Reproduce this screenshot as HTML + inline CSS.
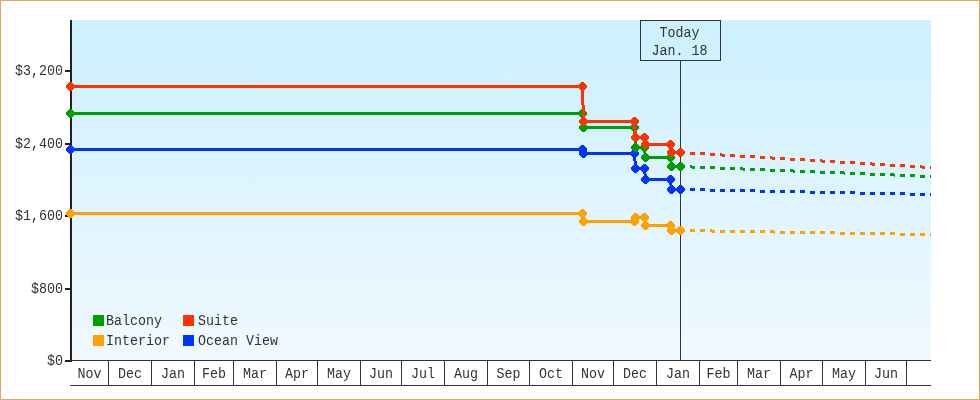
<!DOCTYPE html><html><head><meta charset="utf-8"><style>html,body{margin:0;padding:0;background:#fff;width:980px;height:400px;overflow:hidden}svg{display:block;will-change:transform}text{font-family:"Liberation Mono",monospace;font-size:15px;fill:#333333}</style></head><body>
<svg width="980" height="400" viewBox="0 0 980 400">
<defs><linearGradient id="bg" x1="0" y1="0" x2="0" y2="1"><stop offset="0" stop-color="#ccf0ff"/><stop offset="1" stop-color="#f0f9ff"/></linearGradient></defs>
<rect x="0.5" y="0.5" width="979" height="399" fill="#fff" stroke="#e8a458" stroke-width="1"/>
<rect x="72" y="20" width="859" height="340" fill="url(#bg)"/>
<rect x="680" y="60" width="1" height="300" fill="#333"/>
<rect x="640.5" y="20.5" width="80" height="40" fill="none" stroke="#333" stroke-width="1"/>
<text transform="translate(679.5,37) scale(0.888889,1)" text-anchor="middle">Today</text>
<text transform="translate(679.5,55) scale(0.888889,1)" text-anchor="middle">Jan. 18</text>
<rect x="70" y="20" width="2" height="342" fill="#222"/>
<rect x="65" y="70" width="5" height="2" fill="#222"/>
<text transform="translate(63,75) scale(0.888889,1)" text-anchor="end">$3,200</text>
<rect x="65" y="143" width="5" height="2" fill="#222"/>
<text transform="translate(63,148) scale(0.888889,1)" text-anchor="end">$2,400</text>
<rect x="65" y="215" width="5" height="2" fill="#222"/>
<text transform="translate(63,220) scale(0.888889,1)" text-anchor="end">$1,600</text>
<rect x="65" y="288" width="5" height="2" fill="#222"/>
<text transform="translate(63,293) scale(0.888889,1)" text-anchor="end">$800</text>
<rect x="65" y="360" width="5" height="2" fill="#222"/>
<text transform="translate(63,365) scale(0.888889,1)" text-anchor="end">$0</text>
<rect x="70" y="360" width="861" height="1" fill="#333"/>
<rect x="70" y="385" width="861" height="1" fill="#333"/>
<rect x="108" y="361" width="1" height="24" fill="#333"/>
<rect x="151" y="361" width="1" height="24" fill="#333"/>
<rect x="194" y="361" width="1" height="24" fill="#333"/>
<rect x="233" y="361" width="1" height="24" fill="#333"/>
<rect x="276" y="361" width="1" height="24" fill="#333"/>
<rect x="317" y="361" width="1" height="24" fill="#333"/>
<rect x="360" y="361" width="1" height="24" fill="#333"/>
<rect x="401" y="361" width="1" height="24" fill="#333"/>
<rect x="444" y="361" width="1" height="24" fill="#333"/>
<rect x="487" y="361" width="1" height="24" fill="#333"/>
<rect x="529" y="361" width="1" height="24" fill="#333"/>
<rect x="572" y="361" width="1" height="24" fill="#333"/>
<rect x="613" y="361" width="1" height="24" fill="#333"/>
<rect x="656" y="361" width="1" height="24" fill="#333"/>
<rect x="699" y="361" width="1" height="24" fill="#333"/>
<rect x="737" y="361" width="1" height="24" fill="#333"/>
<rect x="780" y="361" width="1" height="24" fill="#333"/>
<rect x="822" y="361" width="1" height="24" fill="#333"/>
<rect x="865" y="361" width="1" height="24" fill="#333"/>
<rect x="906" y="361" width="1" height="24" fill="#333"/>
<text transform="translate(89.5,378) scale(0.888889,1)" text-anchor="middle">Nov</text>
<text transform="translate(130,378) scale(0.888889,1)" text-anchor="middle">Dec</text>
<text transform="translate(173,378) scale(0.888889,1)" text-anchor="middle">Jan</text>
<text transform="translate(214,378) scale(0.888889,1)" text-anchor="middle">Feb</text>
<text transform="translate(255,378) scale(0.888889,1)" text-anchor="middle">Mar</text>
<text transform="translate(297,378) scale(0.888889,1)" text-anchor="middle">Apr</text>
<text transform="translate(339,378) scale(0.888889,1)" text-anchor="middle">May</text>
<text transform="translate(381,378) scale(0.888889,1)" text-anchor="middle">Jun</text>
<text transform="translate(423,378) scale(0.888889,1)" text-anchor="middle">Jul</text>
<text transform="translate(466,378) scale(0.888889,1)" text-anchor="middle">Aug</text>
<text transform="translate(508.5,378) scale(0.888889,1)" text-anchor="middle">Sep</text>
<text transform="translate(551,378) scale(0.888889,1)" text-anchor="middle">Oct</text>
<text transform="translate(593,378) scale(0.888889,1)" text-anchor="middle">Nov</text>
<text transform="translate(635,378) scale(0.888889,1)" text-anchor="middle">Dec</text>
<text transform="translate(678,378) scale(0.888889,1)" text-anchor="middle">Jan</text>
<text transform="translate(718.5,378) scale(0.888889,1)" text-anchor="middle">Feb</text>
<text transform="translate(759,378) scale(0.888889,1)" text-anchor="middle">Mar</text>
<text transform="translate(801.5,378) scale(0.888889,1)" text-anchor="middle">Apr</text>
<text transform="translate(844,378) scale(0.888889,1)" text-anchor="middle">May</text>
<text transform="translate(886,378) scale(0.888889,1)" text-anchor="middle">Jun</text>
<polyline fill="none" stroke="#ffa200" stroke-width="3" points="70.5,213.5 582.5,213.5 583.5,221.5 634.5,221.5 635.5,217.5 644.5,217.5 645.5,225.5 670.5,225.5 671.5,230.5 680.5,230.5" shape-rendering="crispEdges"/>
<rect x="690" y="229" width="5" height="3" fill="#ffa200"/>
<rect x="700" y="229" width="5" height="3" fill="#ffa200"/>
<rect x="710" y="229" width="2" height="3" fill="#ffa200"/>
<rect x="712" y="230" width="3" height="3" fill="#ffa200"/>
<rect x="720" y="230" width="5" height="3" fill="#ffa200"/>
<rect x="730" y="230" width="5" height="3" fill="#ffa200"/>
<rect x="740" y="230" width="5" height="3" fill="#ffa200"/>
<rect x="750" y="230" width="5" height="3" fill="#ffa200"/>
<rect x="760" y="230" width="5" height="3" fill="#ffa200"/>
<rect x="770" y="230" width="4" height="3" fill="#ffa200"/>
<rect x="774" y="231" width="1" height="3" fill="#ffa200"/>
<rect x="780" y="231" width="5" height="3" fill="#ffa200"/>
<rect x="790" y="231" width="5" height="3" fill="#ffa200"/>
<rect x="800" y="231" width="5" height="3" fill="#ffa200"/>
<rect x="810" y="231" width="5" height="3" fill="#ffa200"/>
<rect x="820" y="231" width="5" height="3" fill="#ffa200"/>
<rect x="830" y="231" width="5" height="3" fill="#ffa200"/>
<rect x="840" y="232" width="5" height="3" fill="#ffa200"/>
<rect x="850" y="232" width="5" height="3" fill="#ffa200"/>
<rect x="860" y="232" width="5" height="3" fill="#ffa200"/>
<rect x="870" y="232" width="5" height="3" fill="#ffa200"/>
<rect x="880" y="232" width="5" height="3" fill="#ffa200"/>
<rect x="890" y="232" width="5" height="3" fill="#ffa200"/>
<rect x="900" y="233" width="5" height="3" fill="#ffa200"/>
<rect x="910" y="233" width="5" height="3" fill="#ffa200"/>
<rect x="920" y="233" width="5" height="3" fill="#ffa200"/>
<rect x="930" y="233" width="1" height="3" fill="#ffa200"/>
<path d="M66 212h1v3h-1zM67 211h1v5h-1zM68 210h1v7h-1zM69 209h1v9h-1zM70 209h1v9h-1zM71 209h1v9h-1zM72 210h1v7h-1zM73 211h1v5h-1zM74 212h1v3h-1z" fill="#ffa200"/>
<path d="M578 212h1v3h-1zM579 211h1v5h-1zM580 210h1v7h-1zM581 209h1v9h-1zM582 209h1v9h-1zM583 209h1v9h-1zM584 210h1v7h-1zM585 211h1v5h-1zM586 212h1v3h-1z" fill="#ffa200"/>
<path d="M579 220h1v3h-1zM580 219h1v5h-1zM581 218h1v7h-1zM582 217h1v9h-1zM583 217h1v9h-1zM584 217h1v9h-1zM585 218h1v7h-1zM586 219h1v5h-1zM587 220h1v3h-1z" fill="#ffa200"/>
<path d="M630 220h1v3h-1zM631 219h1v5h-1zM632 218h1v7h-1zM633 217h1v9h-1zM634 217h1v9h-1zM635 217h1v9h-1zM636 218h1v7h-1zM637 219h1v5h-1zM638 220h1v3h-1z" fill="#ffa200"/>
<path d="M631 216h1v3h-1zM632 215h1v5h-1zM633 214h1v7h-1zM634 213h1v9h-1zM635 213h1v9h-1zM636 213h1v9h-1zM637 214h1v7h-1zM638 215h1v5h-1zM639 216h1v3h-1z" fill="#ffa200"/>
<path d="M640 216h1v3h-1zM641 215h1v5h-1zM642 214h1v7h-1zM643 213h1v9h-1zM644 213h1v9h-1zM645 213h1v9h-1zM646 214h1v7h-1zM647 215h1v5h-1zM648 216h1v3h-1z" fill="#ffa200"/>
<path d="M641 224h1v3h-1zM642 223h1v5h-1zM643 222h1v7h-1zM644 221h1v9h-1zM645 221h1v9h-1zM646 221h1v9h-1zM647 222h1v7h-1zM648 223h1v5h-1zM649 224h1v3h-1z" fill="#ffa200"/>
<path d="M666 224h1v3h-1zM667 223h1v5h-1zM668 222h1v7h-1zM669 221h1v9h-1zM670 221h1v9h-1zM671 221h1v9h-1zM672 222h1v7h-1zM673 223h1v5h-1zM674 224h1v3h-1z" fill="#ffa200"/>
<path d="M667 229h1v3h-1zM668 228h1v5h-1zM669 227h1v7h-1zM670 226h1v9h-1zM671 226h1v9h-1zM672 226h1v9h-1zM673 227h1v7h-1zM674 228h1v5h-1zM675 229h1v3h-1z" fill="#ffa200"/>
<path d="M676 229h1v3h-1zM677 228h1v5h-1zM678 227h1v7h-1zM679 226h1v9h-1zM680 226h1v9h-1zM681 226h1v9h-1zM682 227h1v7h-1zM683 228h1v5h-1zM684 229h1v3h-1z" fill="#ffa200"/>
<polyline fill="none" stroke="#0033ff" stroke-width="3" points="70.5,149.5 582.5,149.5 583.5,153.5 634.5,153.5 635.5,168.5 644.5,168.5 645.5,179.5 670.5,179.5 671.5,189.5 680.5,189.5" shape-rendering="crispEdges"/>
<rect x="690" y="188" width="5" height="3" fill="#0033ff"/>
<rect x="700" y="188" width="5" height="3" fill="#0033ff"/>
<rect x="710" y="189" width="5" height="3" fill="#0033ff"/>
<rect x="720" y="189" width="5" height="3" fill="#0033ff"/>
<rect x="730" y="189" width="5" height="3" fill="#0033ff"/>
<rect x="740" y="189" width="5" height="3" fill="#0033ff"/>
<rect x="750" y="189" width="5" height="3" fill="#0033ff"/>
<rect x="760" y="190" width="5" height="3" fill="#0033ff"/>
<rect x="770" y="190" width="5" height="3" fill="#0033ff"/>
<rect x="780" y="190" width="5" height="3" fill="#0033ff"/>
<rect x="790" y="190" width="5" height="3" fill="#0033ff"/>
<rect x="800" y="190" width="5" height="3" fill="#0033ff"/>
<rect x="810" y="191" width="5" height="3" fill="#0033ff"/>
<rect x="820" y="191" width="5" height="3" fill="#0033ff"/>
<rect x="830" y="191" width="5" height="3" fill="#0033ff"/>
<rect x="840" y="191" width="5" height="3" fill="#0033ff"/>
<rect x="850" y="191" width="5" height="3" fill="#0033ff"/>
<rect x="860" y="192" width="5" height="3" fill="#0033ff"/>
<rect x="870" y="192" width="5" height="3" fill="#0033ff"/>
<rect x="880" y="192" width="5" height="3" fill="#0033ff"/>
<rect x="890" y="192" width="5" height="3" fill="#0033ff"/>
<rect x="900" y="192" width="5" height="3" fill="#0033ff"/>
<rect x="910" y="193" width="5" height="3" fill="#0033ff"/>
<rect x="920" y="193" width="5" height="3" fill="#0033ff"/>
<rect x="930" y="193" width="1" height="3" fill="#0033ff"/>
<path d="M66 148h1v3h-1zM67 147h1v5h-1zM68 146h1v7h-1zM69 145h1v9h-1zM70 145h1v9h-1zM71 145h1v9h-1zM72 146h1v7h-1zM73 147h1v5h-1zM74 148h1v3h-1z" fill="#0033ff"/>
<path d="M578 148h1v3h-1zM579 147h1v5h-1zM580 146h1v7h-1zM581 145h1v9h-1zM582 145h1v9h-1zM583 145h1v9h-1zM584 146h1v7h-1zM585 147h1v5h-1zM586 148h1v3h-1z" fill="#0033ff"/>
<path d="M579 152h1v3h-1zM580 151h1v5h-1zM581 150h1v7h-1zM582 149h1v9h-1zM583 149h1v9h-1zM584 149h1v9h-1zM585 150h1v7h-1zM586 151h1v5h-1zM587 152h1v3h-1z" fill="#0033ff"/>
<path d="M630 152h1v3h-1zM631 151h1v5h-1zM632 150h1v7h-1zM633 149h1v9h-1zM634 149h1v9h-1zM635 149h1v9h-1zM636 150h1v7h-1zM637 151h1v5h-1zM638 152h1v3h-1z" fill="#0033ff"/>
<path d="M631 167h1v3h-1zM632 166h1v5h-1zM633 165h1v7h-1zM634 164h1v9h-1zM635 164h1v9h-1zM636 164h1v9h-1zM637 165h1v7h-1zM638 166h1v5h-1zM639 167h1v3h-1z" fill="#0033ff"/>
<path d="M640 167h1v3h-1zM641 166h1v5h-1zM642 165h1v7h-1zM643 164h1v9h-1zM644 164h1v9h-1zM645 164h1v9h-1zM646 165h1v7h-1zM647 166h1v5h-1zM648 167h1v3h-1z" fill="#0033ff"/>
<path d="M641 178h1v3h-1zM642 177h1v5h-1zM643 176h1v7h-1zM644 175h1v9h-1zM645 175h1v9h-1zM646 175h1v9h-1zM647 176h1v7h-1zM648 177h1v5h-1zM649 178h1v3h-1z" fill="#0033ff"/>
<path d="M666 178h1v3h-1zM667 177h1v5h-1zM668 176h1v7h-1zM669 175h1v9h-1zM670 175h1v9h-1zM671 175h1v9h-1zM672 176h1v7h-1zM673 177h1v5h-1zM674 178h1v3h-1z" fill="#0033ff"/>
<path d="M667 188h1v3h-1zM668 187h1v5h-1zM669 186h1v7h-1zM670 185h1v9h-1zM671 185h1v9h-1zM672 185h1v9h-1zM673 186h1v7h-1zM674 187h1v5h-1zM675 188h1v3h-1z" fill="#0033ff"/>
<path d="M676 188h1v3h-1zM677 187h1v5h-1zM678 186h1v7h-1zM679 185h1v9h-1zM680 185h1v9h-1zM681 185h1v9h-1zM682 186h1v7h-1zM683 187h1v5h-1zM684 188h1v3h-1z" fill="#0033ff"/>
<polyline fill="none" stroke="#009f00" stroke-width="3" points="70.5,113.5 582.5,113.5 583.5,127.5 634.5,127.5 635.5,147.5 644.5,147.5 645.5,157.5 670.5,157.5 671.5,166.5 680.5,166.5" shape-rendering="crispEdges"/>
<rect x="690" y="165" width="2" height="3" fill="#009f00"/>
<rect x="692" y="166" width="3" height="3" fill="#009f00"/>
<rect x="700" y="166" width="5" height="3" fill="#009f00"/>
<rect x="710" y="166" width="5" height="3" fill="#009f00"/>
<rect x="720" y="167" width="5" height="3" fill="#009f00"/>
<rect x="730" y="167" width="5" height="3" fill="#009f00"/>
<rect x="740" y="167" width="3" height="3" fill="#009f00"/>
<rect x="743" y="168" width="2" height="3" fill="#009f00"/>
<rect x="750" y="168" width="5" height="3" fill="#009f00"/>
<rect x="760" y="168" width="5" height="3" fill="#009f00"/>
<rect x="770" y="169" width="5" height="3" fill="#009f00"/>
<rect x="780" y="169" width="5" height="3" fill="#009f00"/>
<rect x="790" y="169" width="3" height="3" fill="#009f00"/>
<rect x="793" y="170" width="2" height="3" fill="#009f00"/>
<rect x="800" y="170" width="5" height="3" fill="#009f00"/>
<rect x="810" y="170" width="5" height="3" fill="#009f00"/>
<rect x="820" y="171" width="5" height="3" fill="#009f00"/>
<rect x="830" y="171" width="5" height="3" fill="#009f00"/>
<rect x="840" y="171" width="4" height="3" fill="#009f00"/>
<rect x="844" y="172" width="1" height="3" fill="#009f00"/>
<rect x="850" y="172" width="5" height="3" fill="#009f00"/>
<rect x="860" y="172" width="5" height="3" fill="#009f00"/>
<rect x="870" y="173" width="5" height="3" fill="#009f00"/>
<rect x="880" y="173" width="5" height="3" fill="#009f00"/>
<rect x="890" y="173" width="4" height="3" fill="#009f00"/>
<rect x="894" y="174" width="1" height="3" fill="#009f00"/>
<rect x="900" y="174" width="5" height="3" fill="#009f00"/>
<rect x="910" y="174" width="5" height="3" fill="#009f00"/>
<rect x="920" y="175" width="5" height="3" fill="#009f00"/>
<rect x="930" y="175" width="1" height="3" fill="#009f00"/>
<path d="M66 112h1v3h-1zM67 111h1v5h-1zM68 110h1v7h-1zM69 109h1v9h-1zM70 109h1v9h-1zM71 109h1v9h-1zM72 110h1v7h-1zM73 111h1v5h-1zM74 112h1v3h-1z" fill="#009f00"/>
<path d="M578 112h1v3h-1zM579 111h1v5h-1zM580 110h1v7h-1zM581 109h1v9h-1zM582 109h1v9h-1zM583 109h1v9h-1zM584 110h1v7h-1zM585 111h1v5h-1zM586 112h1v3h-1z" fill="#009f00"/>
<path d="M579 126h1v3h-1zM580 125h1v5h-1zM581 124h1v7h-1zM582 123h1v9h-1zM583 123h1v9h-1zM584 123h1v9h-1zM585 124h1v7h-1zM586 125h1v5h-1zM587 126h1v3h-1z" fill="#009f00"/>
<path d="M630 126h1v3h-1zM631 125h1v5h-1zM632 124h1v7h-1zM633 123h1v9h-1zM634 123h1v9h-1zM635 123h1v9h-1zM636 124h1v7h-1zM637 125h1v5h-1zM638 126h1v3h-1z" fill="#009f00"/>
<path d="M631 146h1v3h-1zM632 145h1v5h-1zM633 144h1v7h-1zM634 143h1v9h-1zM635 143h1v9h-1zM636 143h1v9h-1zM637 144h1v7h-1zM638 145h1v5h-1zM639 146h1v3h-1z" fill="#009f00"/>
<path d="M640 146h1v3h-1zM641 145h1v5h-1zM642 144h1v7h-1zM643 143h1v9h-1zM644 143h1v9h-1zM645 143h1v9h-1zM646 144h1v7h-1zM647 145h1v5h-1zM648 146h1v3h-1z" fill="#009f00"/>
<path d="M641 156h1v3h-1zM642 155h1v5h-1zM643 154h1v7h-1zM644 153h1v9h-1zM645 153h1v9h-1zM646 153h1v9h-1zM647 154h1v7h-1zM648 155h1v5h-1zM649 156h1v3h-1z" fill="#009f00"/>
<path d="M666 156h1v3h-1zM667 155h1v5h-1zM668 154h1v7h-1zM669 153h1v9h-1zM670 153h1v9h-1zM671 153h1v9h-1zM672 154h1v7h-1zM673 155h1v5h-1zM674 156h1v3h-1z" fill="#009f00"/>
<path d="M667 165h1v3h-1zM668 164h1v5h-1zM669 163h1v7h-1zM670 162h1v9h-1zM671 162h1v9h-1zM672 162h1v9h-1zM673 163h1v7h-1zM674 164h1v5h-1zM675 165h1v3h-1z" fill="#009f00"/>
<path d="M676 165h1v3h-1zM677 164h1v5h-1zM678 163h1v7h-1zM679 162h1v9h-1zM680 162h1v9h-1zM681 162h1v9h-1zM682 163h1v7h-1zM683 164h1v5h-1zM684 165h1v3h-1z" fill="#009f00"/>
<polyline fill="none" stroke="#ff3300" stroke-width="3" points="70.5,86.5 582.5,86.5 583.5,121.5 634.5,121.5 635.5,137.5 644.5,137.5 645.5,144.5 670.5,144.5 671.5,152.5 680.5,152.5" shape-rendering="crispEdges"/>
<rect x="690" y="152" width="5" height="3" fill="#ff3300"/>
<rect x="700" y="152" width="5" height="3" fill="#ff3300"/>
<rect x="710" y="153" width="5" height="3" fill="#ff3300"/>
<rect x="720" y="153" width="2" height="3" fill="#ff3300"/>
<rect x="722" y="154" width="3" height="3" fill="#ff3300"/>
<rect x="730" y="154" width="5" height="3" fill="#ff3300"/>
<rect x="740" y="155" width="5" height="3" fill="#ff3300"/>
<rect x="750" y="155" width="5" height="3" fill="#ff3300"/>
<rect x="760" y="156" width="5" height="3" fill="#ff3300"/>
<rect x="770" y="156" width="2" height="3" fill="#ff3300"/>
<rect x="772" y="157" width="3" height="3" fill="#ff3300"/>
<rect x="780" y="157" width="5" height="3" fill="#ff3300"/>
<rect x="790" y="158" width="5" height="3" fill="#ff3300"/>
<rect x="800" y="158" width="5" height="3" fill="#ff3300"/>
<rect x="810" y="159" width="5" height="3" fill="#ff3300"/>
<rect x="820" y="159" width="2" height="3" fill="#ff3300"/>
<rect x="822" y="160" width="3" height="3" fill="#ff3300"/>
<rect x="830" y="160" width="5" height="3" fill="#ff3300"/>
<rect x="840" y="161" width="5" height="3" fill="#ff3300"/>
<rect x="850" y="161" width="5" height="3" fill="#ff3300"/>
<rect x="860" y="162" width="5" height="3" fill="#ff3300"/>
<rect x="870" y="162" width="2" height="3" fill="#ff3300"/>
<rect x="872" y="163" width="3" height="3" fill="#ff3300"/>
<rect x="880" y="163" width="5" height="3" fill="#ff3300"/>
<rect x="890" y="164" width="5" height="3" fill="#ff3300"/>
<rect x="900" y="164" width="5" height="3" fill="#ff3300"/>
<rect x="910" y="165" width="5" height="3" fill="#ff3300"/>
<rect x="920" y="165" width="2" height="3" fill="#ff3300"/>
<rect x="922" y="166" width="3" height="3" fill="#ff3300"/>
<rect x="930" y="166" width="1" height="3" fill="#ff3300"/>
<path d="M66 85h1v3h-1zM67 84h1v5h-1zM68 83h1v7h-1zM69 82h1v9h-1zM70 82h1v9h-1zM71 82h1v9h-1zM72 83h1v7h-1zM73 84h1v5h-1zM74 85h1v3h-1z" fill="#ff3300"/>
<path d="M578 85h1v3h-1zM579 84h1v5h-1zM580 83h1v7h-1zM581 82h1v9h-1zM582 82h1v9h-1zM583 82h1v9h-1zM584 83h1v7h-1zM585 84h1v5h-1zM586 85h1v3h-1z" fill="#ff3300"/>
<path d="M579 120h1v3h-1zM580 119h1v5h-1zM581 118h1v7h-1zM582 117h1v9h-1zM583 117h1v9h-1zM584 117h1v9h-1zM585 118h1v7h-1zM586 119h1v5h-1zM587 120h1v3h-1z" fill="#ff3300"/>
<path d="M630 120h1v3h-1zM631 119h1v5h-1zM632 118h1v7h-1zM633 117h1v9h-1zM634 117h1v9h-1zM635 117h1v9h-1zM636 118h1v7h-1zM637 119h1v5h-1zM638 120h1v3h-1z" fill="#ff3300"/>
<path d="M631 136h1v3h-1zM632 135h1v5h-1zM633 134h1v7h-1zM634 133h1v9h-1zM635 133h1v9h-1zM636 133h1v9h-1zM637 134h1v7h-1zM638 135h1v5h-1zM639 136h1v3h-1z" fill="#ff3300"/>
<path d="M640 136h1v3h-1zM641 135h1v5h-1zM642 134h1v7h-1zM643 133h1v9h-1zM644 133h1v9h-1zM645 133h1v9h-1zM646 134h1v7h-1zM647 135h1v5h-1zM648 136h1v3h-1z" fill="#ff3300"/>
<path d="M641 143h1v3h-1zM642 142h1v5h-1zM643 141h1v7h-1zM644 140h1v9h-1zM645 140h1v9h-1zM646 140h1v9h-1zM647 141h1v7h-1zM648 142h1v5h-1zM649 143h1v3h-1z" fill="#ff3300"/>
<path d="M666 143h1v3h-1zM667 142h1v5h-1zM668 141h1v7h-1zM669 140h1v9h-1zM670 140h1v9h-1zM671 140h1v9h-1zM672 141h1v7h-1zM673 142h1v5h-1zM674 143h1v3h-1z" fill="#ff3300"/>
<path d="M667 151h1v3h-1zM668 150h1v5h-1zM669 149h1v7h-1zM670 148h1v9h-1zM671 148h1v9h-1zM672 148h1v9h-1zM673 149h1v7h-1zM674 150h1v5h-1zM675 151h1v3h-1z" fill="#ff3300"/>
<path d="M676 151h1v3h-1zM677 150h1v5h-1zM678 149h1v7h-1zM679 148h1v9h-1zM680 148h1v9h-1zM681 148h1v9h-1zM682 149h1v7h-1zM683 150h1v5h-1zM684 151h1v3h-1z" fill="#ff3300"/>
<rect x="93" y="315" width="11" height="11" fill="#009f00"/>
<text transform="translate(106,325) scale(0.888889,1)" text-anchor="start">Balcony</text>
<rect x="183" y="315" width="11" height="11" fill="#ff3300"/>
<text transform="translate(198,325) scale(0.888889,1)" text-anchor="start">Suite</text>
<rect x="93" y="335" width="11" height="11" fill="#ffa200"/>
<text transform="translate(106,345) scale(0.888889,1)" text-anchor="start">Interior</text>
<rect x="183" y="335" width="11" height="11" fill="#0033ff"/>
<text transform="translate(198,345) scale(0.888889,1)" text-anchor="start">Ocean View</text>
</svg></body></html>
